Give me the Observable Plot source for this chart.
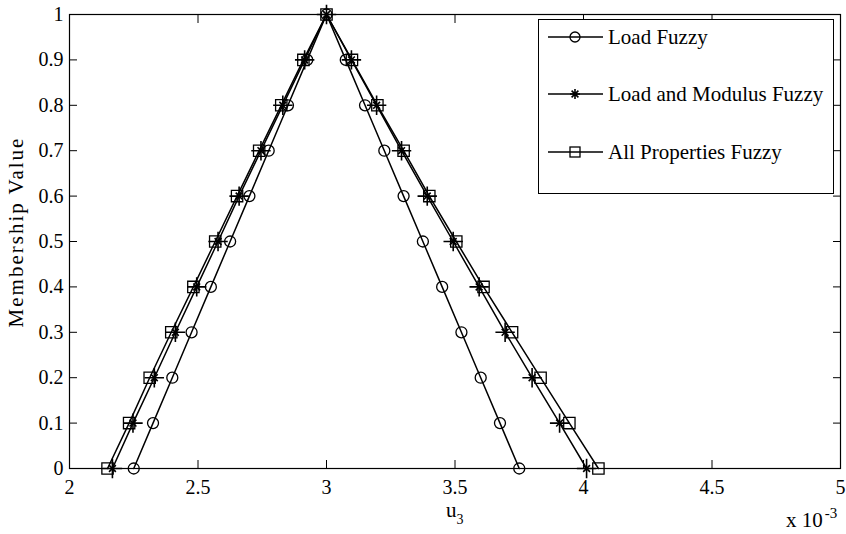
<!DOCTYPE html>
<html><head><meta charset="utf-8">
<script src="https://cdn.jsdelivr.net/npm/d3@7"></script>
<script src="https://cdn.jsdelivr.net/npm/@observablehq/plot@0.6"></script>
<style>
body{margin:0;background:#fff;}
#chart{position:relative;width:846px;height:534px;font-family:"Liberation Serif","Times New Roman",serif;color:#000;overflow:hidden;}
#chart svg.plot{position:absolute;left:0;top:0;}
.legend{position:absolute;left:538px;top:19px;width:296px;height:175px;border:1px solid #000;background:#fff;box-sizing:border-box;}
.legend .item{position:absolute;left:9px;height:24px;display:flex;align-items:center;font-size:21px;white-space:nowrap;}
.legend .item svg{margin-right:5px;}
.xlabel{position:absolute;left:446px;top:502px;font-size:21px;line-height:16px;}
.xlabel sub{font-size:14px;vertical-align:-7px;line-height:0;}
.xexp{position:absolute;left:786px;top:512px;font-size:21px;line-height:16px;white-space:nowrap;}
.xexp sup{font-size:15px;vertical-align:9px;line-height:0;margin-left:2px;}
.ylabel{position:absolute;left:16px;top:232px;font-size:21px;letter-spacing:2px;white-space:nowrap;transform:translate(-50%,-50%) rotate(-90deg);}
</style></head><body><div id="chart"></div>
<script>
// membership levels (alpha-cuts)
const levels = [0, 0.1, 0.2, 0.3, 0.4, 0.5, 0.6, 0.7, 0.8, 0.9, 1];
// left / right bounds of u3 (x 10^-3) for each series
const loadLeft  = [2.25, 2.325, 2.40, 2.475, 2.55, 2.625, 2.70, 2.775, 2.85, 2.925, 3.0];
const loadRight = [3.75, 3.675, 3.60, 3.525, 3.45, 3.375, 3.30, 3.225, 3.15, 3.075, 3.0];
const modLeft   = [2.167, 2.247, 2.330, 2.412, 2.495, 2.578, 2.660, 2.745, 2.830, 2.915, 3.0];
const modRight  = [4.012, 3.907, 3.800, 3.695, 3.594, 3.493, 3.392, 3.292, 3.195, 3.097, 3.0];
const allLeft   = [2.148, 2.232, 2.312, 2.396, 2.482, 2.567, 2.652, 2.738, 2.824, 2.910, 3.0];
const allRight  = [4.058, 3.945, 3.833, 3.722, 3.611, 3.505, 3.400, 3.300, 3.198, 3.099, 3.0];
const seriesNames = ["Load Fuzzy", "Load and Modulus Fuzzy", "All Properties Fuzzy"];
const xTicks = [2, 2.5, 3, 3.5, 4, 4.5, 5];
const yTicks = levels;

const lefts = [loadLeft, modLeft, allLeft];
const rights = [loadRight, modRight, allRight];
const rows = [];
seriesNames.forEach((s, i) => {
  levels.forEach((m, j) => rows.push({series: s, u: lefts[i][j], m}));
  for (let j = levels.length - 2; j >= 0; j--) rows.push({series: s, u: rights[i][j], m: levels[j]});
});
const bySeries = s => rows.filter(d => d.series === s);

const font = '"Liberation Serif", "Times New Roman", serif';
const fmt = d => String(d);
const marks = [
  Plot.line(rows, {x: "u", y: "m", z: "series", stroke: "#000", strokeWidth: 1.5}),
  Plot.dot(bySeries(seriesNames[0]), {x: "u", y: "m", symbol: "circle", r: 5.5, fill: "none", stroke: "#000", strokeWidth: 1.3}),
  Plot.dot(bySeries(seriesNames[1]), {x: "u", y: "m", symbol: "plus", r: 6.3, fill: "none", stroke: "#000", strokeWidth: 1.6}),
  Plot.dot(bySeries(seriesNames[1]), {x: "u", y: "m", symbol: "times", r: 3.2, fill: "none", stroke: "#000", strokeWidth: 1.6}),
  Plot.dot(bySeries(seriesNames[2]), {x: "u", y: "m", symbol: "square", r: 6.4, fill: "none", stroke: "#000", strokeWidth: 1.3}),
  Plot.frame({stroke: "#000", strokeWidth: 1.2}),
  Plot.axisX(xTicks, {anchor: "bottom", tickSize: 8, dy: -8, tickFormat: () => "", label: null, strokeWidth: 1}),
  Plot.axisX(xTicks, {anchor: "top", tickSize: 8, dy: 8, tickFormat: () => "", label: null, strokeWidth: 1}),
  Plot.axisX(xTicks, {anchor: "bottom", tickSize: 0, tickPadding: 11, label: null, fontSize: 20, fill: "#000", tickFormat: fmt, fontFamily: font}),
  Plot.axisY(yTicks, {anchor: "left", tickSize: 8, dx: 8, tickFormat: () => "", label: null, strokeWidth: 1}),
  Plot.axisY(yTicks, {anchor: "right", tickSize: 8, dx: -8, tickFormat: () => "", label: null, strokeWidth: 1}),
  Plot.axisY(yTicks, {anchor: "left", tickSize: 0, tickPadding: 6, label: null, fontSize: 20, fill: "#000", tickFormat: fmt, fontFamily: font})
];

const chart = Plot.plot({
  width: 846, height: 534,
  marginLeft: 69, marginRight: 6, marginTop: 14, marginBottom: 66,
  x: {domain: [2, 5], axis: null},
  y: {domain: [0, 1], axis: null},
  style: {fontFamily: font, fontSize: "20px", background: "#fff", color: "#000"},
  marks
});
chart.classList.add("plot");
const root = document.getElementById("chart");
root.appendChild(chart);

// legend
const legend = document.createElement("div");
legend.className = "legend";
const symbolSvg = [
  '<circle cx="27" cy="8" r="5" fill="none" stroke="#000" stroke-width="1.3"/>',
  '<path d="M27,3V13M22,8H32M23.6,4.6L30.4,11.4M23.6,11.4L30.4,4.6" stroke="#000" stroke-width="1.6" fill="none"/>',
  '<rect x="22" y="3" width="10" height="10" fill="none" stroke="#000" stroke-width="1.3"/>'
];
const rowY = [5, 62, 120];
seriesNames.forEach((s, i) => {
  const it = document.createElement("div");
  it.className = "item";
  it.style.top = rowY[i] + "px";
  it.innerHTML = `<svg width="55" height="16"><line x1="0" y1="8" x2="55" y2="8" stroke="#000" stroke-width="1.5"/>${symbolSvg[i]}</svg><span>${s}</span>`;
  legend.appendChild(it);
});
root.appendChild(legend);

const xl = document.createElement("div");
xl.className = "xlabel";
xl.innerHTML = "u<sub>3</sub>";
root.appendChild(xl);
const xe = document.createElement("div");
xe.className = "xexp";
xe.innerHTML = "x 10<sup>-3</sup>";
root.appendChild(xe);
const yl = document.createElement("div");
yl.className = "ylabel";
yl.textContent = "Membership Value";
root.appendChild(yl);
</script>
</body></html>
